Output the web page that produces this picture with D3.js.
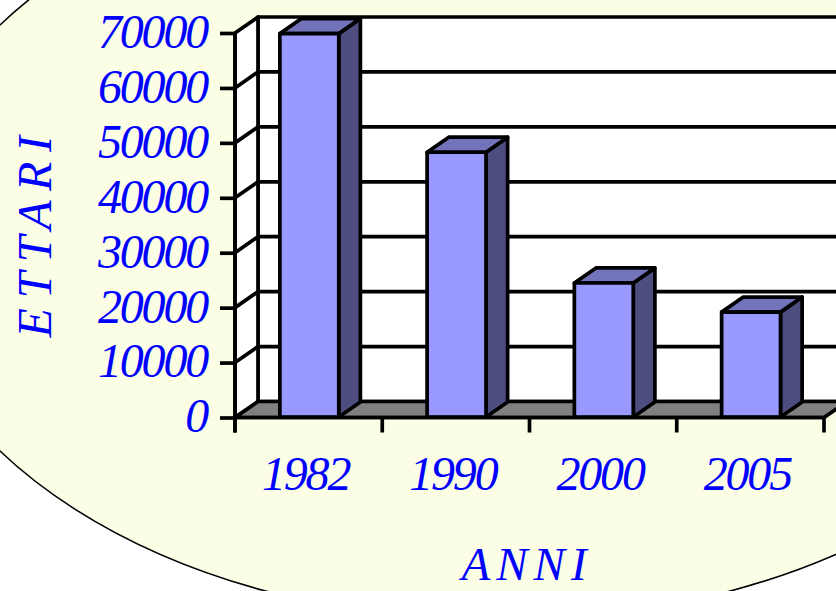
<!DOCTYPE html>
<html>
<head>
<meta charset="utf-8">
<script src="https://cdn.jsdelivr.net/npm/d3@7"></script>
<style>
  html, body { margin: 0; padding: 0; background: #ffffff; }
  svg { display: block; }
  .lbl { font-family: "Liberation Serif", "Times New Roman", serif; font-style: italic; fill: #0000ff; }
</style>
</head>
<body>
<svg id="chart" width="836" height="591"></svg>
<script>
// Surface (hectares) by year
const categories = ["1982", "1990", "2000", "2005"];
const hectares = [69800, 48200, 24400, 19100];
const yTickValues = [0, 10000, 20000, 30000, 40000, 50000, 60000, 70000];
const yTitle = "ETTARI";
const xTitle = "ANNI";

const svg = d3.select("#chart");

// 3D box geometry: front plane and depth offset
const depthX = 23, depthY = -16;
const frontD = 0.03, backD = 0.97;

const x = d3.scaleBand()
  .domain(categories)
  .range([235, 824])
  .paddingInner(0.6)
  .paddingOuter(0.3);

const y = d3.scaleLinear()
  .domain([0, 70000])
  .range([417.5, 33]);

const x0 = x.range()[0], x1 = x.range()[1];
const y0 = y(0), yTop = y(70000);

// background ellipse
svg.append("ellipse")
  .attr("cx", 498).attr("cy", 238)
  .attr("rx", 599).attr("ry", 383)
  .attr("fill", "#fbfee5")
  .attr("stroke", "#000").attr("stroke-width", 1.6);

const stroke = "#000", lw = 3.7;
const pt = (px, py) => px + "," + py;

// back wall
svg.append("polygon")
  .attr("points", [pt(x0 + depthX, yTop + depthY), pt(x1 + depthX, yTop + depthY),
                   pt(x1 + depthX, y0 + depthY), pt(x0 + depthX, y0 + depthY)].join(" "))
  .attr("fill", "#fff").attr("stroke", stroke).attr("stroke-width", lw)
  .attr("stroke-linejoin", "round");

// side wall
svg.append("polygon")
  .attr("points", [pt(x0, yTop), pt(x0 + depthX, yTop + depthY),
                   pt(x0 + depthX, y0 + depthY), pt(x0, y0)].join(" "))
  .attr("fill", "#fff").attr("stroke", stroke).attr("stroke-width", lw)
  .attr("stroke-linejoin", "round");

// floor
svg.append("polygon")
  .attr("points", [pt(x0, y0), pt(x0 + depthX, y0 + depthY),
                   pt(x1 + depthX, y0 + depthY), pt(x1, y0)].join(" "))
  .attr("fill", "#808080").attr("stroke", stroke).attr("stroke-width", lw)
  .attr("stroke-linejoin", "round");

// gridlines on back and side walls
const grid = svg.append("g").attr("stroke", stroke).attr("stroke-width", lw).attr("fill", "none");
yTickValues.filter(v => v > 0 && v < 70000).forEach(v => {
  grid.append("line")
    .attr("x1", x0 + depthX).attr("x2", x1 + depthX)
    .attr("y1", y(v) + depthY).attr("y2", y(v) + depthY);
  grid.append("line")
    .attr("x1", x0).attr("x2", x0 + depthX)
    .attr("y1", y(v)).attr("y2", y(v) + depthY)
    .attr("stroke-linecap", "round");
});

// bars
const bars = svg.append("g").attr("stroke", stroke).attr("stroke-width", lw)
  .attr("stroke-linejoin", "round");
categories.forEach((c, i) => {
  const v = hectares[i];
  const bl = x(c), br = x(c) + x.bandwidth();
  const fx = depthX * frontD, fy = depthY * frontD;
  const bx = depthX * backD, by = depthY * backD;
  const yv = y(v);
  // side face
  bars.append("polygon")
    .attr("points", [pt(br + fx, yv + fy), pt(br + bx, yv + by),
                     pt(br + bx, y0 + by), pt(br + fx, y0 + fy)].join(" "))
    .attr("fill", "#4d4d80");
  // top face
  bars.append("polygon")
    .attr("points", [pt(bl + fx, yv + fy), pt(bl + bx, yv + by),
                     pt(br + bx, yv + by), pt(br + fx, yv + fy)].join(" "))
    .attr("fill", "#7373bb");
  // front face
  bars.append("rect")
    .attr("x", bl + fx).attr("y", yv + fy)
    .attr("width", x.bandwidth()).attr("height", y0 - yv)
    .attr("fill", "#9999ff");
});

// front axis lines
svg.append("line")
  .attr("x1", x0).attr("x2", x0).attr("y1", yTop).attr("y2", y0 + 15)
  .attr("stroke", stroke).attr("stroke-width", lw);
svg.append("line")
  .attr("x1", x0).attr("x2", x1).attr("y1", y0).attr("y2", y0)
  .attr("stroke", stroke).attr("stroke-width", lw);

// category boundary ticks
const tickXs = [x0].concat(categories.slice(1).map(c => x(c) - (x.step() - x.bandwidth()) / 2), [x1]);
svg.append("g").selectAll("line").data(tickXs).join("line")
  .attr("x1", d => d).attr("x2", d => d)
  .attr("y1", y0).attr("y2", y0 + 15)
  .attr("stroke", stroke).attr("stroke-width", lw);

// value axis
const yAxis = svg.append("g")
  .attr("transform", `translate(${x0},0)`)
  .call(d3.axisLeft(y).tickValues(yTickValues).tickSize(15).tickPadding(13).tickFormat(d3.format("d")));
yAxis.select(".domain").remove();
yAxis.selectAll(".tick line").attr("stroke", stroke).attr("stroke-width", lw);
yAxis.selectAll(".tick text")
  .attr("class", "lbl")
  .style("font-size", "48px")
  .style("letter-spacing", "-2.2px")
  .attr("dy", "0.3em");

// category labels
svg.append("g").selectAll("text").data(categories).join("text")
  .attr("class", "lbl")
  .attr("x", d => x(d) + x.bandwidth() / 2 - 3)
  .attr("y", 490)
  .attr("text-anchor", "middle")
  .style("font-size", "48px")
  .style("letter-spacing", "-2.2px")
  .text(d => d);

// axis titles
svg.append("text")
  .attr("class", "lbl")
  .attr("x", 527).attr("y", 580)
  .attr("text-anchor", "middle")
  .style("font-size", "47px")
  .style("letter-spacing", "6px")
  .text(xTitle);

svg.append("text")
  .attr("class", "lbl")
  .attr("transform", "translate(51,232) rotate(-90)")
  .attr("text-anchor", "middle")
  .style("font-size", "48px")
  .style("letter-spacing", "9.5px")
  .text(yTitle);
</script>
</body>
</html>
